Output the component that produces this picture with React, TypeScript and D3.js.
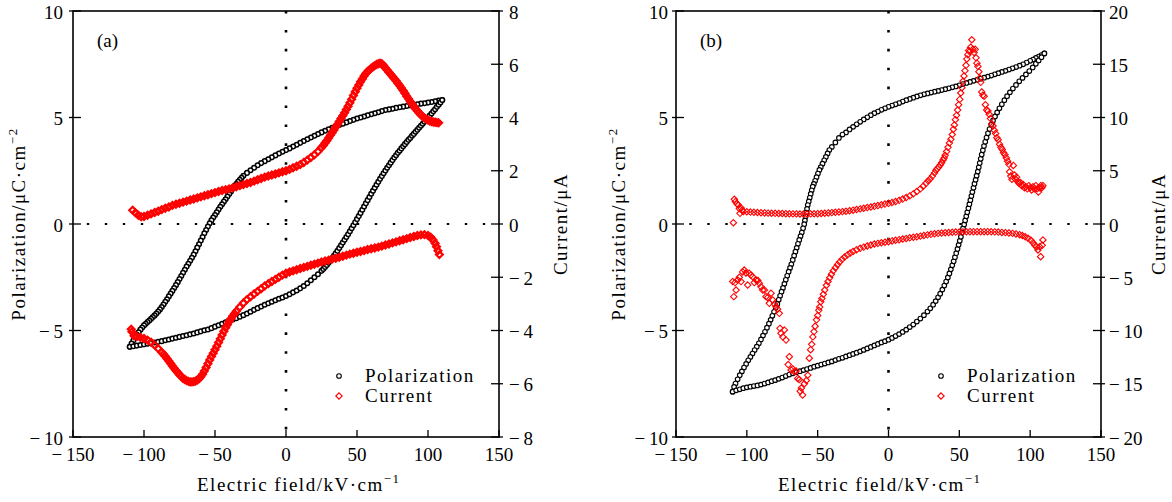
import React from 'react';
import * as d3 from 'd3';

// ---------- tick values ----------
const E_TICKS = [-150, -100, -50, 0, 50, 100, 150];
const P_TICKS = [-10, -5, 0, 5, 10];
const IA_TICKS = [-8, -6, -4, -2, 0, 2, 4, 6, 8];
const IB_TICKS = [-20, -15, -10, -5, 0, 5, 10, 15, 20];

type Pt = [number, number];

// ---------- panel (a) polarization (E kV/cm, P uC/cm2) ----------
const polA_down: Pt[] = [
  [110, 5.82], [107.5, 5.79], [105, 5.76], [102.5, 5.73], [100, 5.70], [97.5, 5.67], [95, 5.65], [92.5, 5.62], [90, 5.60], [87.5, 5.57],
  [85, 5.54], [82.5, 5.51], [80, 5.48], [77.5, 5.45], [75, 5.41], [72.5, 5.38], [70, 5.35], [67.5, 5.30], [65, 5.25], [62.5, 5.20],
  [60, 5.15], [57.5, 5.10], [55, 5.05], [52.5, 5.00], [50, 4.95], [47.5, 4.89], [45, 4.83], [42.5, 4.77], [40, 4.71], [37.5, 4.65],
  [35, 4.59], [32.5, 4.52], [30, 4.45], [27.5, 4.38], [25, 4.30], [22.5, 4.22], [20, 4.14], [17.5, 4.06], [15, 3.98], [12.5, 3.90],
  [10, 3.81], [7.5, 3.72], [5, 3.64], [2.5, 3.55], [0, 3.47], [-2.5, 3.39], [-5, 3.31], [-7.5, 3.22], [-10, 3.13], [-12.5, 3.04],
  [-15, 2.95], [-17.5, 2.86], [-20, 2.76], [-22.5, 2.64], [-25, 2.52], [-27.5, 2.40], [-30, 2.26], [-31.25, 2.17], [-32.5, 2.08], [-33.75, 1.98],
  [-35, 1.88], [-36.25, 1.77], [-37.5, 1.65], [-38.75, 1.53], [-40, 1.41], [-41.25, 1.29], [-42.5, 1.16], [-43.75, 1.05], [-45, 0.93], [-46.25, 0.81],
  [-47.5, 0.68], [-48.75, 0.55], [-50, 0.42], [-51.25, 0.30], [-52.5, 0.17], [-53.75, 0.03], [-55, -0.12], [-56.25, -0.28], [-57.5, -0.44], [-58.75, -0.61],
  [-60, -0.78], [-61.25, -0.95], [-62.5, -1.11], [-63.75, -1.28], [-65, -1.44], [-66.25, -1.59], [-67.5, -1.73], [-68.75, -1.87], [-70, -2.00], [-71.25, -2.15],
  [-72.5, -2.29], [-73.75, -2.44], [-75, -2.58], [-76.25, -2.73], [-77.5, -2.87], [-78.75, -3.01], [-80, -3.14], [-81.25, -3.27], [-82.5, -3.40], [-83.75, -3.53],
  [-85, -3.65], [-86.25, -3.78], [-87.5, -3.90], [-88.75, -4.01], [-90, -4.11], [-91.25, -4.20], [-92.5, -4.29], [-93.75, -4.37], [-95, -4.45], [-96.25, -4.53],
  [-97.5, -4.60], [-98.75, -4.68], [-100, -4.76], [-101.25, -4.86], [-102.5, -4.96], [-103.75, -5.08], [-105, -5.20], [-106.25, -5.33], [-107.5, -5.47], [-108.75, -5.61],
  [-110, -5.76],
];
const polA_up: Pt[] = [
  [-110, -5.76], [-107.5, -5.74], [-105, -5.71], [-102.5, -5.68], [-100, -5.65], [-97.5, -5.62], [-95, -5.59], [-92.5, -5.56], [-90, -5.53], [-87.5, -5.50],
  [-85, -5.46], [-82.5, -5.42], [-80, -5.38], [-77.5, -5.34], [-75, -5.30], [-72.5, -5.26], [-70, -5.22], [-67.5, -5.18], [-65, -5.14], [-62.5, -5.09],
  [-60, -5.04], [-57.5, -4.99], [-55, -4.95], [-52.5, -4.89], [-50, -4.82], [-47.5, -4.75], [-45, -4.68], [-42.5, -4.62], [-40, -4.55], [-37.5, -4.48],
  [-35, -4.42], [-32.5, -4.35], [-30, -4.28], [-27.5, -4.20], [-25, -4.12], [-22.5, -4.03], [-20, -3.95], [-17.5, -3.87], [-15, -3.79], [-12.5, -3.72],
  [-10, -3.65], [-7.5, -3.58], [-5, -3.51], [-2.5, -3.45], [0, -3.38], [2.5, -3.30], [5, -3.21], [7.5, -3.12], [10, -3.02], [12.5, -2.91],
  [15, -2.78], [17.5, -2.64], [20, -2.50], [22.5, -2.36], [25, -2.20], [26.25, -2.11], [27.5, -2.02], [28.75, -1.92], [30, -1.82], [31.25, -1.71],
  [32.5, -1.60], [33.75, -1.49], [35, -1.38], [36.25, -1.26], [37.5, -1.13], [38.75, -1.00], [40, -0.87], [41.25, -0.74], [42.5, -0.61], [43.75, -0.48],
  [45, -0.34], [46.25, -0.20], [47.5, -0.06], [48.75, 0.08], [50, 0.23], [51.25, 0.37], [52.5, 0.52], [53.75, 0.67], [55, 0.82], [56.25, 0.97],
  [57.5, 1.12], [58.75, 1.27], [60, 1.42], [61.25, 1.56], [62.5, 1.70], [63.75, 1.84], [65, 1.98], [66.25, 2.12], [67.5, 2.25], [68.75, 2.38],
  [70, 2.51], [71.25, 2.64], [72.5, 2.76], [73.75, 2.88], [75, 3.00], [76.25, 3.12], [77.5, 3.23], [78.75, 3.34], [80, 3.44], [81.25, 3.55],
  [82.5, 3.65], [83.75, 3.75], [85, 3.85], [86.25, 3.95], [87.5, 4.04], [88.75, 4.14], [90, 4.23], [91.25, 4.33], [92.5, 4.42], [93.75, 4.52],
  [95, 4.61], [96.25, 4.71], [97.5, 4.80], [98.75, 4.90], [100, 4.99], [101.25, 5.09], [102.5, 5.19], [103.75, 5.29], [105, 5.39], [106.25, 5.50],
  [107.5, 5.60], [108.75, 5.71], [110, 5.82],
];

// ---------- panel (a) current (E kV/cm, I uA) ----------
const curA_pos: Pt[] = [
  [-108, 0.52], [-106, 0.42], [-104, 0.33], [-102, 0.27], [-100, 0.28], [-97.5, 0.33], [-95, 0.38], [-92.5, 0.43], [-90, 0.48], [-87.5, 0.54],
  [-85, 0.59], [-82.5, 0.64], [-80, 0.70], [-77.5, 0.74], [-75, 0.78], [-72.5, 0.82], [-70, 0.86], [-67.5, 0.90], [-65, 0.94], [-62.5, 0.98],
  [-60, 1.02], [-57.5, 1.06], [-55, 1.10], [-52.5, 1.14], [-50, 1.18], [-47.5, 1.22], [-45, 1.26], [-42.5, 1.29], [-40, 1.32], [-37.5, 1.36],
  [-35, 1.40], [-32.5, 1.44], [-30, 1.48], [-27.5, 1.52], [-25, 1.56], [-22.5, 1.61], [-20, 1.66], [-17.5, 1.71], [-15, 1.76], [-12.5, 1.80],
  [-10, 1.84], [-7.5, 1.88], [-5, 1.92], [-2.5, 1.96], [0, 2.00], [2.5, 2.05], [5, 2.11], [7.5, 2.17], [10, 2.23], [12.5, 2.31],
  [15, 2.40], [17.5, 2.50], [20, 2.60], [22.5, 2.72], [25, 2.87], [26.25, 2.95], [27.5, 3.04], [28.75, 3.13], [30, 3.23], [31.25, 3.33],
  [32.5, 3.43], [33.75, 3.53], [35, 3.64], [36.25, 3.74], [37.5, 3.85], [38.75, 3.96], [40, 4.07], [41.25, 4.18], [42.5, 4.30], [43.75, 4.42],
  [45, 4.55], [46.25, 4.69], [47.5, 4.83], [48.75, 4.97], [50, 5.10], [51.25, 5.22], [52.5, 5.34], [53.75, 5.45], [55, 5.56], [56.25, 5.65],
  [57.5, 5.73], [58.75, 5.79], [60, 5.85], [61.25, 5.90], [62.5, 5.95], [63.75, 5.99], [65, 6.02], [66.25, 6.04], [67.5, 6.02], [68.75, 5.95],
  [70, 5.86], [71.25, 5.78], [72.5, 5.70], [73.75, 5.62], [75, 5.54], [76.25, 5.46], [77.5, 5.38], [78.75, 5.29], [80, 5.20], [81.25, 5.11],
  [82.5, 5.01], [83.75, 4.91], [85, 4.80], [86.25, 4.70], [87.5, 4.60], [88.75, 4.51], [90, 4.42], [91.25, 4.33], [92.5, 4.25], [93.75, 4.17],
  [95, 4.10], [96.25, 4.04], [97.5, 3.98], [98.75, 3.94], [100, 3.90], [101.25, 3.87], [102.5, 3.85], [103.75, 3.83], [105, 3.82], [106.25, 3.81],
  [107.5, 3.80],
];
const curA_neg: Pt[] = [
  [108, -1.15], [107, -1.00], [106, -0.85], [105, -0.72], [103.5, -0.60], [102, -0.50], [100, -0.43], [97.5, -0.40], [95, -0.41], [92.5, -0.43],
  [90, -0.47], [87.5, -0.51], [85, -0.55], [82.5, -0.59], [80, -0.63], [77.5, -0.67], [75, -0.71], [72.5, -0.75], [70, -0.79], [67.5, -0.83],
  [65, -0.87], [62.5, -0.90], [60, -0.93], [57.5, -0.96], [55, -1.00], [52.5, -1.03], [50, -1.06], [47.5, -1.10], [45, -1.13], [42.5, -1.17],
  [40, -1.21], [37.5, -1.25], [35, -1.29], [32.5, -1.32], [30, -1.36], [27.5, -1.39], [25, -1.43], [22.5, -1.47], [20, -1.51], [17.5, -1.55],
  [15, -1.59], [12.5, -1.63], [10, -1.67], [7.5, -1.72], [5, -1.76], [2.5, -1.80], [0, -1.85], [-2.5, -1.92], [-5, -2.00], [-7.5, -2.08],
  [-10, -2.16], [-12.5, -2.24], [-15, -2.33], [-17.5, -2.43], [-20, -2.53], [-22.5, -2.63], [-25, -2.73], [-27.5, -2.84], [-30, -2.97], [-32.5, -3.12],
  [-35, -3.28], [-36.25, -3.37], [-37.5, -3.46], [-38.75, -3.56], [-40, -3.66], [-41.25, -3.78], [-42.5, -3.90], [-43.75, -4.03], [-45, -4.17], [-46.25, -4.31],
  [-47.5, -4.45], [-48.75, -4.59], [-50, -4.72], [-51.25, -4.85], [-52.5, -4.98], [-53.75, -5.11], [-55, -5.25], [-56.25, -5.39], [-57.5, -5.52], [-58.75, -5.64],
  [-60, -5.74], [-61.25, -5.81], [-62.5, -5.86], [-63.75, -5.90], [-65, -5.92], [-66.25, -5.93], [-67.5, -5.93], [-68.75, -5.91], [-70, -5.88], [-71.25, -5.84],
  [-72.5, -5.80], [-73.75, -5.73], [-75, -5.66], [-76.25, -5.58], [-77.5, -5.50], [-78.75, -5.42], [-80, -5.33], [-81.25, -5.24], [-82.5, -5.15], [-83.75, -5.06],
  [-85, -4.97], [-86.25, -4.89], [-87.5, -4.82], [-90, -4.68], [-92.5, -4.55], [-95, -4.44], [-97.5, -4.36], [-100, -4.30], [-102.5, -4.26], [-105, -4.23],
  [-107, -4.20], [-108.5, -4.05], [-109, -3.95],
];

// ---------- panel (b) polarization ----------
const polB_down: Pt[] = [
  [110, 8.01], [108, 7.93], [106, 7.86], [104, 7.80], [102, 7.72], [100, 7.66], [97.5, 7.58], [95, 7.50], [92.5, 7.43], [90, 7.37],
  [87.5, 7.31], [85, 7.25], [82.5, 7.19], [80, 7.14], [77.5, 7.08], [75, 7.03], [72.5, 6.97], [70, 6.92], [67.5, 6.87], [65, 6.82],
  [62.5, 6.77], [60, 6.72], [57.5, 6.67], [55, 6.62], [52.5, 6.57], [50, 6.51], [47.5, 6.46], [45, 6.42], [42.5, 6.37], [40, 6.33],
  [37.5, 6.29], [35, 6.25], [32.5, 6.21], [30, 6.17], [27.5, 6.13], [25, 6.09], [22.5, 6.04], [20, 5.99], [17.5, 5.93], [15, 5.87],
  [12.5, 5.81], [10, 5.75], [7.5, 5.68], [5, 5.62], [2.5, 5.56], [0, 5.50], [-2.5, 5.43], [-5, 5.36], [-7.5, 5.28], [-10, 5.20],
  [-12.5, 5.11], [-15, 5.01], [-17.5, 4.91], [-20, 4.80], [-22.5, 4.68], [-25, 4.56], [-27.5, 4.44], [-30, 4.30], [-32.5, 4.20], [-35, 4.04],
  [-37.5, 3.83], [-40, 3.62], [-41.8, 3.47], [-43, 3.31], [-44.2, 3.15], [-45.4, 2.99], [-46.6, 2.83], [-47.8, 2.67], [-48.8, 2.54], [-49.8, 2.37],
  [-50.8, 2.20], [-51.8, 2.03], [-52.7, 1.88], [-53.5, 1.75], [-54.2, 1.58], [-54.9, 1.41], [-55.6, 1.23], [-56.3, 1.06], [-57, 0.89], [-57.5, 0.71],
  [-58, 0.53], [-58.5, 0.35], [-59, 0.17], [-59.5, -0.01], [-60.3, -0.20], [-61.2, -0.40], [-62.1, -0.57], [-63, -0.75], [-63.9, -0.93], [-64.8, -1.12],
  [-65.7, -1.30], [-66.6, -1.49], [-67.6, -1.69], [-68.6, -1.89], [-69.5, -2.06], [-70.5, -2.24], [-71.5, -2.43], [-72.5, -2.62], [-73.5, -2.81], [-74.5, -3.00],
  [-75.5, -3.18], [-76.5, -3.37], [-77.5, -3.56], [-78.5, -3.75], [-79.6, -3.93], [-80.8, -4.12], [-82, -4.31], [-83.2, -4.50], [-84.4, -4.68], [-85.8, -4.87],
  [-87.2, -5.06], [-88.6, -5.24], [-90, -5.42], [-91.5, -5.60], [-93, -5.76], [-94.5, -5.92], [-96, -6.08], [-97.5, -6.24], [-99, -6.40], [-100.5, -6.57],
  [-102, -6.74], [-103.5, -6.92], [-105, -7.10], [-106.5, -7.29], [-108, -7.49], [-109, -7.65], [-110, -7.87],
];
const polB_up: Pt[] = [
  [-110, -7.87], [-107.5, -7.81], [-105, -7.76], [-102.5, -7.71], [-100, -7.67], [-97.5, -7.64], [-95, -7.61], [-92.5, -7.58], [-90, -7.54], [-87.5, -7.49],
  [-85, -7.44], [-82.5, -7.38], [-80, -7.33], [-77.5, -7.27], [-75, -7.21], [-72.5, -7.14], [-70, -7.07], [-67.5, -7.01], [-65, -6.96], [-62.5, -6.91],
  [-60, -6.86], [-57.5, -6.81], [-55, -6.76], [-52.5, -6.70], [-50, -6.65], [-47.5, -6.60], [-45, -6.55], [-42.5, -6.50], [-40, -6.45], [-37.5, -6.39],
  [-35, -6.33], [-32.5, -6.28], [-30, -6.22], [-27.5, -6.16], [-25, -6.10], [-22.5, -6.04], [-20, -5.98], [-17.5, -5.91], [-15, -5.84], [-12.5, -5.77],
  [-10, -5.70], [-7.5, -5.63], [-5, -5.56], [-2.5, -5.50], [0, -5.43], [2.5, -5.35], [5, -5.26], [7.5, -5.17], [10, -5.07], [12.5, -4.96],
  [15, -4.84], [17.5, -4.72], [20, -4.58], [22.5, -4.44], [25, -4.28], [27.5, -4.11], [29.5, -3.96], [31.5, -3.79], [33.3, -3.62], [35, -3.44],
  [36.5, -3.27], [38, -3.08], [39.4, -2.89], [40.7, -2.70], [41.9, -2.51], [43, -2.32], [44, -2.13], [45, -1.94], [46, -1.75], [46.9, -1.56],
  [47.8, -1.37], [48.7, -1.17], [49.5, -0.98], [50.3, -0.79], [51.1, -0.60], [51.9, -0.40], [52.6, -0.21], [53.4, -0.02], [54.1, 0.17], [54.9, 0.36],
  [55.6, 0.55], [56.4, 0.74], [57.1, 0.93], [57.8, 1.12], [58.5, 1.31], [59.2, 1.50], [60, 1.70], [60.7, 1.89], [61.5, 2.08], [62.2, 2.27],
  [63, 2.46], [63.7, 2.66], [64.4, 2.86], [65.1, 3.06], [65.8, 3.26], [66.6, 3.46], [67.4, 3.66], [68.3, 3.86], [69.2, 4.06], [70.2, 4.26],
  [71.3, 4.46], [72.5, 4.66], [73.8, 4.86], [75.2, 5.05], [76.7, 5.24], [78.3, 5.43], [80, 5.62], [81.8, 5.81], [83.7, 6.00], [85.7, 6.18],
  [87.8, 6.36], [90, 6.53], [92.3, 6.70], [94.6, 6.86], [97, 7.02], [99.4, 7.18], [101.8, 7.35], [104, 7.52], [106, 7.68], [108, 7.83],
  [110, 8.01],
];

// ---------- panel (b) current ----------
const curB_pos: Pt[] = [
  [-109.5, 0.12], [-108.8, 2.32], [-108.1, 2.10], [-107, 1.90], [-106, 1.78], [-105.3, 1.45], [-104.8, 1.00], [-104, 1.50], [-103.2, 1.30], [-102.5, 1.16],
  [-100, 1.15], [-97.5, 1.12], [-95, 1.10], [-92.5, 1.08], [-90, 1.06], [-87.5, 1.04], [-85, 1.02], [-82.5, 1.01], [-80, 1.00], [-77.5, 0.99],
  [-75, 0.98], [-72.5, 0.97], [-70, 0.96], [-67.5, 0.95], [-65, 0.95], [-62.5, 0.94], [-60, 0.94], [-57.5, 0.94], [-55, 0.95], [-52.5, 0.96],
  [-50, 0.97], [-47.5, 0.99], [-45, 1.01], [-42.5, 1.04], [-40, 1.07], [-37.5, 1.10], [-35, 1.13], [-32.5, 1.16], [-30, 1.20], [-27.5, 1.25],
  [-25, 1.30], [-22.5, 1.36], [-20, 1.42], [-17.5, 1.48], [-15, 1.54], [-12.5, 1.60], [-10, 1.66], [-7.5, 1.73], [-5, 1.80], [-2.5, 1.87],
  [0, 1.94], [2.5, 2.02], [5, 2.11], [7.5, 2.22], [10, 2.34], [12.5, 2.48], [15, 2.64], [17.5, 2.83], [20, 3.05], [22.5, 3.30],
  [24.5, 3.55], [26.5, 3.82], [28, 4.05], [29.5, 4.25], [31, 4.50], [32.5, 4.80], [33.5, 5.05], [34.5, 5.20], [35.5, 5.35], [36.5, 5.55],
  [37.5, 5.75], [38.5, 6.00], [39.3, 6.20], [40, 6.45], [41, 6.80], [42, 7.20], [43, 7.60], [44, 7.95], [45, 8.40], [45.8, 8.90],
  [46.5, 9.30], [47.2, 9.80], [48, 10.20], [48.8, 10.70], [49.5, 11.20], [50.3, 11.70], [51, 12.30], [51.8, 12.80], [52.6, 13.40], [53.3, 13.90],
  [54, 14.40], [54.7, 14.90], [55.3, 15.50], [56, 15.90], [56.6, 16.30], [57.3, 16.20], [58, 16.60], [58.8, 17.30], [59.6, 16.40], [60.4, 16.10],
  [61.2, 16.40], [61.8, 15.60], [62.4, 15.10], [63.1, 14.80], [63.8, 14.30], [64.5, 13.70], [65.1, 13.30], [65.8, 12.40], [66.6, 12.10], [67.5, 12.00],
  [68.4, 11.20], [69.3, 10.70], [70.2, 10.60], [71.1, 10.30], [72, 9.90], [72.9, 9.40], [73.8, 9.20], [74.7, 8.80], [75.6, 8.50], [76.5, 8.10],
  [77.4, 7.90], [78.4, 7.50], [79.3, 7.20], [80.3, 7.00], [81.2, 6.70], [82.2, 6.50], [83.2, 6.20], [84.1, 5.90], [85, 5.60], [85.5, 4.90],
  [86.3, 4.50], [87.1, 4.20], [88.1, 5.50], [88.9, 4.60], [89.7, 4.20], [90.4, 4.40], [91.3, 4.00], [92.2, 3.80], [93.2, 3.90], [94.1, 3.60],
  [95.1, 3.70], [96, 3.40], [97, 3.50], [98, 3.30], [99, 3.60], [100, 3.40], [101, 3.20], [102, 3.50], [103, 3.30], [104, 3.60],
  [105, 3.30], [105.8, 3.00], [106.7, 3.40], [107.5, 3.60], [108.2, 3.40], [109, 3.60],
];
const curB_neg: Pt[] = [
  [109, -1.50], [108.5, -2.00], [107.4, -3.07], [106.7, -2.13], [105.5, -2.44], [104.5, -2.15], [103.2, -1.97], [102, -1.75], [100.5, -1.52], [98.5, -1.34],
  [96.5, -1.20], [94.5, -1.08], [92.5, -1.00], [90, -0.93], [87.5, -0.88], [85, -0.84], [82.5, -0.81], [80, -0.79], [77.5, -0.76], [75, -0.74],
  [72.5, -0.73], [70, -0.72], [67.5, -0.72], [65, -0.72], [62.5, -0.72], [60, -0.72], [57.5, -0.72], [55, -0.73], [52.5, -0.74], [50, -0.75],
  [47.5, -0.76], [45, -0.78], [42.5, -0.80], [40, -0.82], [37.5, -0.85], [35, -0.88], [32.5, -0.92], [30, -0.97], [27.5, -1.02], [25, -1.08],
  [22.5, -1.14], [20, -1.20], [17.5, -1.25], [15, -1.30], [12.5, -1.36], [10, -1.41], [7.5, -1.47], [5, -1.53], [2.5, -1.59], [0, -1.66],
  [-2.5, -1.71], [-5, -1.76], [-7.5, -1.82], [-10, -1.88], [-12.5, -1.97], [-15, -2.06], [-17.5, -2.17], [-20, -2.28], [-22.5, -2.42], [-25, -2.58],
  [-27, -2.73], [-29, -2.90], [-31, -3.10], [-32.8, -3.32], [-34.5, -3.56], [-36, -3.82], [-37.5, -4.10], [-39, -4.40], [-40.3, -4.72], [-41.5, -5.05],
  [-42.7, -5.40], [-43.8, -5.75], [-45, -6.20], [-46, -6.60], [-47, -7.00], [-47.8, -7.30], [-48.6, -7.80], [-49.2, -8.10], [-50, -8.60], [-50.8, -9.00],
  [-51.8, -9.60], [-52.6, -10.10], [-53.4, -10.60], [-54.2, -11.30], [-55, -11.80], [-55.9, -12.60], [-57, -14.20], [-58, -14.70], [-59.4, -15.00], [-60.6, -16.06],
  [-61.5, -15.40], [-62.3, -15.70], [-63, -14.60], [-64.1, -14.50], [-65.2, -13.80], [-66.5, -13.87], [-67.6, -13.60], [-68.8, -13.70], [-70, -12.46], [-70.8, -13.20],
  [-72.3, -10.90], [-73.5, -9.95], [-74.6, -10.60], [-75.9, -10.26], [-76.6, -9.80], [-77.1, -8.39], [-78.3, -8.00], [-79.4, -7.76], [-80.5, -7.50], [-81.7, -7.14],
  [-82.9, -6.50], [-84.1, -7.45], [-85.3, -6.90], [-86.5, -6.82], [-87.6, -6.20], [-88.8, -6.20], [-90, -5.90], [-91.2, -5.57], [-92.3, -5.30], [-93.5, -5.26],
  [-94.7, -5.50], [-95.9, -4.95], [-97.1, -4.80], [-98.3, -4.63], [-99.4, -5.73], [-100.6, -4.60], [-101.8, -4.32], [-103, -4.50], [-104.1, -5.41], [-105.3, -5.00],
  [-106.4, -5.26], [-107.6, -6.20], [-108.3, -5.50], [-109.2, -6.82], [-110, -5.41],
];

const FONT = "'Liberation Serif', 'DejaVu Serif', serif";
const RED = '#ff0000';
const Y0 = 11;
const Y1 = 437;

const fmt = (v: number) => (v < 0 ? `\u2212\u2009${Math.abs(v)}` : `${v}`);

type PanelProps = {
  x0: number;
  x1: number;
  tag: string;
  iDomain: [number, number];
  iTicks: number[];
  polDown: Pt[];
  polUp: Pt[];
  curPos: Pt[];
  curNeg: Pt[];
  legendX: number;
  xTitleX: number;
  leftLabelX: number;
  rightLabelX: number;
  rightTickGap: number;
  leftTickGap: number;
  circleStroke: number;
  diamondStroke: number;
  diamondSize: number;
};

function Panel(p: PanelProps) {
  const xs = d3.scaleLinear().domain([-150, 150]).range([p.x0, p.x1]);
  const yP = d3.scaleLinear().domain([-10, 10]).range([Y1, Y0]);
  const yI = d3.scaleLinear().domain(p.iDomain).range([Y1, Y0]);
  const xc = xs(0);
  const yc = yP(0);
  const hOffset = (((p.x0 + 1.2 - xc) % 18) + 18) % 18;
  const diamond = (cx: number, cy: number, s: number) =>
    `M${cx},${cy - s}L${cx + s},${cy}L${cx},${cy + s}L${cx - s},${cy}Z`;
  const R = 2.3;
  const S = p.diamondSize;

  const circles = (pts: Pt[], key: string) =>
    pts.map((d, i) => (
      <circle key={key + i} cx={xs(d[0])} cy={yP(d[1])} r={R} fill="#fff" stroke="#000" strokeWidth={p.circleStroke} />
    ));
  const diamonds = (pts: Pt[], key: string) =>
    pts.map((d, i) => (
      <path key={key + i} d={diamond(xs(d[0]), yI(d[1]), S)} fill="none" stroke={RED} strokeWidth={p.diamondStroke} />
    ));

  return (
    <g fontFamily={FONT} fill="#000">
      {/* dotted zero lines */}
      <line x1={xc} x2={xc} y1={Y0} y2={Y1} stroke="#000" strokeWidth={2.6} strokeDasharray="2.6 16.3" />
      <line x1={p.x0} x2={p.x1} y1={yc} y2={yc} stroke="#000" strokeWidth={2.2} strokeDasharray="2.4 15.6" strokeDashoffset={hOffset} />

      {/* data */}
      {circles(p.polDown, 'pd')}
      {circles(p.polUp, 'pu')}
      {diamonds(p.curPos, 'cp')}
      {diamonds(p.curNeg, 'cn')}

      {/* frame */}
      <rect x={p.x0} y={Y0} width={p.x1 - p.x0} height={Y1 - Y0} fill="none" stroke="#000" strokeWidth={1.6} />

      {/* bottom ticks */}
      {E_TICKS.map((t) => (
        <g key={'e' + t}>
          <line x1={xs(t)} x2={xs(t)} y1={Y1} y2={Y1 - 7} stroke="#000" strokeWidth={1.3} />
          <text x={xs(t)} y={461} fontSize={19} textAnchor="middle">{fmt(t)}</text>
        </g>
      ))}
      {/* left ticks */}
      {P_TICKS.map((t) => (
        <g key={'p' + t}>
          <line x1={p.x0 - 4} x2={p.x0 + 8} y1={yP(t)} y2={yP(t)} stroke="#000" strokeWidth={1.3} />
          <text x={p.x0 - p.leftTickGap} y={yP(t) + 7.5} fontSize={19} textAnchor="end">{fmt(t)}</text>
        </g>
      ))}
      {/* right ticks */}
      {p.iTicks.map((t) => (
        <g key={'i' + t}>
          <line x1={p.x1 - 8} x2={p.x1 + 4} y1={yI(t)} y2={yI(t)} stroke="#000" strokeWidth={1.3} />
          <text x={p.x1 + p.rightTickGap} y={yI(t) + 7.5} fontSize={19} textAnchor="start">{fmt(t)}</text>
        </g>
      ))}

      {/* panel tag */}
      <text x={p.x0 + 24} y={47} fontSize={19}>{p.tag}</text>

      {/* axis titles */}
      <text x={p.xTitleX} y={491} fontSize={19} letterSpacing={1.5}>
        Electric field/kV·cm<tspan dy={-8} fontSize={13}>−1</tspan>
      </text>
      <text transform={`translate(${p.leftLabelX},${yc}) rotate(-90)`} fontSize={19} letterSpacing={1.5} textAnchor="middle">
        Polarization/μC·cm<tspan dy={-8} fontSize={13}>−2</tspan>
      </text>
      <text transform={`translate(${p.rightLabelX},${yc}) rotate(-90)`} fontSize={19} letterSpacing={1.5} textAnchor="middle">
        Current/μA
      </text>

      {/* legend */}
      <circle cx={p.legendX} cy={376} r={R} fill="#fff" stroke="#000" strokeWidth={1.1} />
      <text x={p.legendX + 26} y={382} fontSize={19} letterSpacing={1.5}>Polarization</text>
      <path d={diamond(p.legendX, 396, 3.2)} fill="none" stroke={RED} strokeWidth={1.1} />
      <text x={p.legendX + 26} y={402} fontSize={19} letterSpacing={1.5}>Current</text>
    </g>
  );
}

export default function App() {
  return (
    <svg width={1172} height={502} style={{ position: 'absolute', left: 0, top: 0, background: '#fff' }}>
      <rect x={0} y={0} width={1172} height={502} fill="#fff" />
      <Panel
        x0={73} x1={499} tag="(a)" iDomain={[-8, 8]} iTicks={IA_TICKS}
        polDown={polA_down} polUp={polA_up} curPos={curA_pos} curNeg={curA_neg}
        legendX={339} xTitleX={197} leftLabelX={25} rightLabelX={567}
        rightTickGap={10} leftTickGap={10}
        circleStroke={1.5} diamondStroke={2.2} diamondSize={3.4}
      />
      <Panel
        x0={676} x1={1101} tag="(b)" iDomain={[-20, 20]} iTicks={IB_TICKS}
        polDown={polB_down} polUp={polB_up} curPos={curB_pos} curNeg={curB_neg}
        legendX={941} xTitleX={778} leftLabelX={625} rightLabelX={1165}
        rightTickGap={8} leftTickGap={8}
        circleStroke={1.15} diamondStroke={1.1} diamondSize={3.2}
      />
    </svg>
  );
}
